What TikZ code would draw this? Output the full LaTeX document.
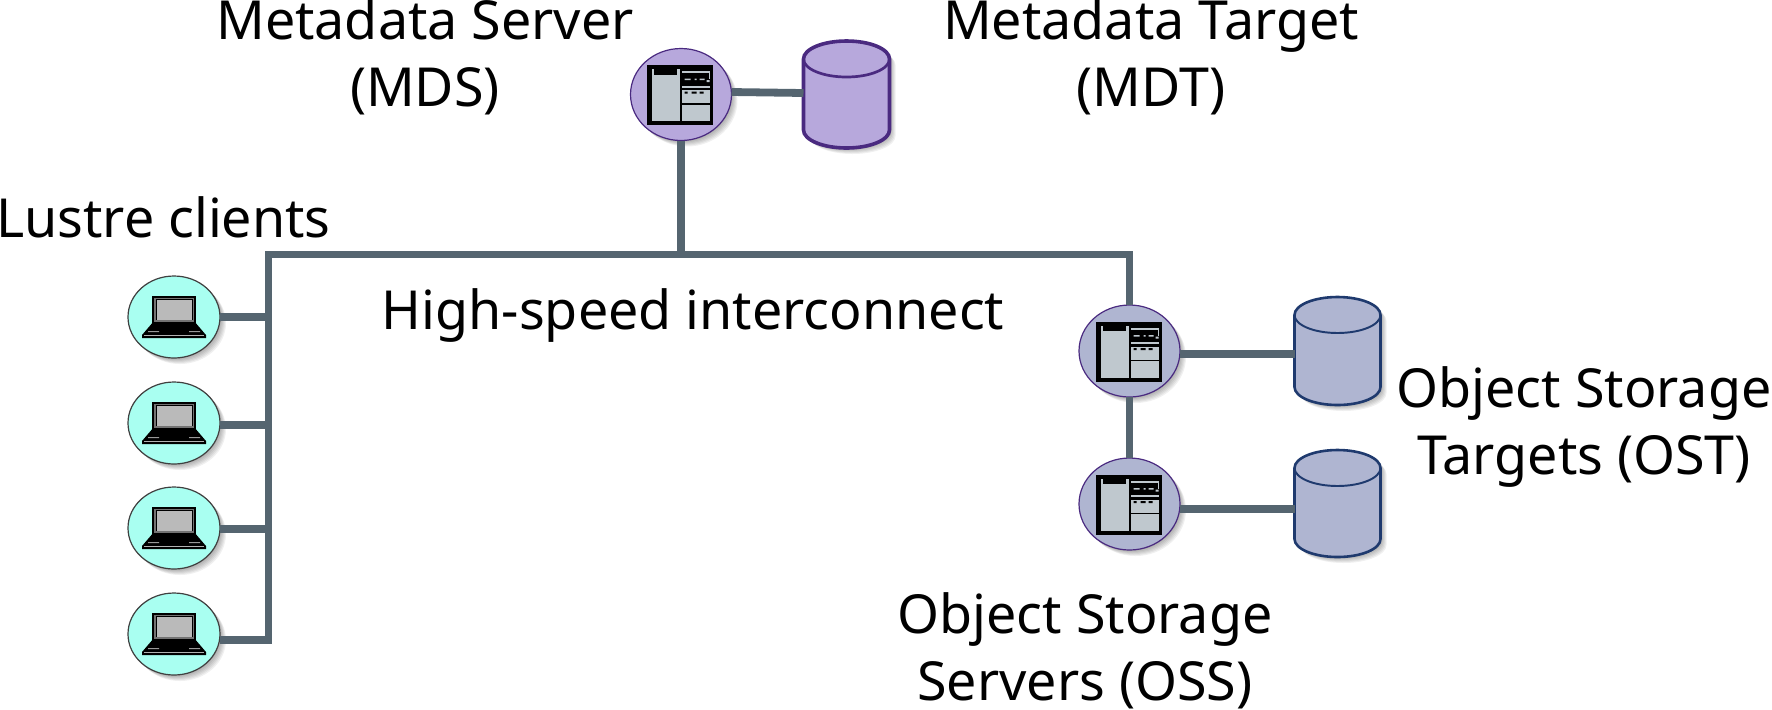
\documentclass[tikz,border=0pt]{standalone}
\usepackage{fontspec}
\setmainfont{Noto Sans}
\usetikzlibrary{shapes.geometric,calc}
\definecolor{wirec}{HTML}{556570}
\definecolor{mdfill}{HTML}{B7A8DC}
\definecolor{mdline}{HTML}{4A2A80}
\definecolor{osfill}{HTML}{AFB5D1}
\definecolor{osline}{HTML}{1F3A6E}
\definecolor{clfill}{HTML}{A9FFF1}
\definecolor{panec}{HTML}{BFC8CE}
\tikzset{
  wire/.style={draw=wirec,line width=3.9pt},
  lbl/.style={font=\fontsize{26.9}{33.4}\selectfont,align=center,inner sep=0pt,text=black},
  srv/.style={ellipse,draw=mdline,line width=0.6pt,inner sep=0pt,outer sep=0pt,minimum width=50.5pt,minimum height=46pt},
  cli/.style={ellipse,draw=black!75,fill=clfill,line width=0.6pt,inner sep=0pt,outer sep=0pt,minimum width=46pt,minimum height=41pt},
  cylbox/.style={rectangle,inner sep=0pt,outer sep=0pt,minimum width=43pt},
}
% soft shadow of an ellipse
\newcommand{\softell}[4]{%
  \foreach \k in {1,...,6}{\fill[black,opacity=.06] (#1+\k,#2+\k) ellipse [x radius=#3,y radius=#4];}}
% cylinder: cx, top, bottom, ry, fill, line, name, line width
\newcommand{\cyl}[8]{%
  \pgfmathsetmacro{\hh}{(#3-#2)/2}
  \foreach \k in {1,...,6}{\fill[black,opacity=.06] (#1-43+\k,#2+#4+\k) arc[start angle=180,end angle=0,x radius=43,y radius=-#4] -- (#1+43+\k,#3-#4+\k) arc[start angle=0,end angle=-180,x radius=43,y radius=-#4] -- cycle;}
  \node[cylbox,minimum height=\hh pt] (#7) at (#1,{(#2+#3)/2}) {};
  \draw[draw=#6,fill=#5,line width=#8] (#1-43,#2+#4) arc[start angle=180,end angle=0,x radius=43,y radius=-#4] -- (#1+43,#3-#4) arc[start angle=0,end angle=-180,x radius=43,y radius=-#4] -- cycle;
  \draw[draw=#6,line width=#8*0.75] (#1-43,#2+#4) arc[start angle=180,end angle=360,x radius=43,y radius=-#4];
}
% server window icon; (#1,#2) is the circle centre
\newcommand{\srvicon}[2]{%
  \begin{scope}[shift={(#1-33.3,#2-29.5)}]
    \fill[black] (0,0) rectangle (66.7,60);
    \fill[panec] (5,4) rectangle (33.5,56);
    \fill[black] (7,0) rectangle (30,9.5);
    \fill[panec] (35.5,6) rectangle (63,8);
    \fill[panec] (63,6) rectangle (62,14);
    \fill[panec] (38,13.5) rectangle (44,15) (48,13.5) rectangle (50,15) (53,13.5) rectangle (58,15) (60,15) rectangle (63,17);
    \fill[panec] (35.5,20.5) rectangle (63,22.5);
    \fill[panec] (35.5,25) rectangle (63,38);
    \fill[black] (38,26.5) rectangle (41,28.5) (45,26.5) rectangle (50,28.5) (53,26.5) rectangle (57,28.5);
    \fill[panec] (35.5,39.5) rectangle (63,56);
  \end{scope}}
% laptop icon; (#1,#2) is the circle centre
\newcommand{\lapicon}[2]{%
  \begin{scope}[shift={(#1,#2)}]
    \fill[black] (-21.7,-21) rectangle (21.7,7);
    \fill[black!55] (-20,-19.5) rectangle (20,5);
    \fill[black] (-18.5,-18) rectangle (18.5,3);
    \fill[black!27] (-17.5,-17) rectangle (18,2.5);
    \fill[black] (-21.7,6) -- (21.7,6) -- (32,18) -- (32,21 ) -- (-32,21) -- (-32,18) -- cycle;
    \fill[black!30] (-30,18.2) rectangle (30,19.2);
    \fill[black!40] (-26,14.2) rectangle (-15,15.2) (15,14.2) rectangle (26,15.2);
  \end{scope}}
\begin{document}
\begin{tikzpicture}[x=0.5pt,y=-0.5pt]
\useasboundingbox (0,0) rectangle (1772,709);
% named anchors of the network
\coordinate (busL) at (268.5,254.5);
\coordinate (busR) at (1129.5,254.5);
\coordinate (busM) at (681,254.5);
\coordinate (c1) at (174,317);
\coordinate (c2) at (174,423);
\coordinate (c3) at (174,528);
\coordinate (c4) at (174,634);
% shadows
\softell{681}{94.5}{50.5}{46}
\softell{1129.5}{351}{50.5}{46}
\softell{1129.5}{504}{50.5}{46}
\softell{174}{317}{46}{41}
\softell{174}{423}{46}{41}
\softell{174}{528}{46}{41}
\softell{174}{634}{46}{41}
% cylinders
\cyl{846.5}{41}{148}{18}{mdfill}{mdline}{mdt}{1.8pt}
\cyl{1337.5}{297}{405}{18}{osfill}{osline}{ost1}{1.3pt}
\cyl{1337.5}{450}{557}{18}{osfill}{osline}{ost2}{1.3pt}
% servers and clients
\node[srv,fill=mdfill] (mds) at (681,94.5) {};
\node[srv,fill=osfill] (oss1) at (1129.5,351) {};
\node[srv,fill=osfill] (oss2) at (1129.5,504) {};
\node[cli] (cl1) at (c1) {};
\node[cli] (cl2) at (c2) {};
\node[cli] (cl3) at (c3) {};
\node[cli] (cl4) at (c4) {};
\srvicon{680}{94.5}
\srvicon{1129}{351}
\srvicon{1129}{504}
\lapicon{174}{317}
\lapicon{174}{423}
\lapicon{174}{528}
\lapicon{174}{634}
% connectors
\draw[wire] (mds.east |- 0,92) -- (mdt.west |- 0,93);
\draw[wire] (mds.south) -- (busM);
\draw[wire] (oss1.north) -- (busR) -- (busL) -- (busL |- 0,640) -- (cl4.east |- 0,640);
\draw[wire] (cl1.east) -- (cl1 -| busL);
\draw[wire] (cl2.east |- 0,425) -- (busL |- 0,425);
\draw[wire] (cl3.east |- 0,529) -- (busL |- 0,529);
\draw[wire] (oss1.south) -- (oss2.north);
\draw[wire] (oss1.east |- 0,354) -- (ost1.west |- 0,354);
\draw[wire] (oss2.east |- 0,509) -- (ost2.west |- 0,509);
% labels
\node[lbl] (tmds) at (425,57) {Metadata Server\\(MDS)};
\node[lbl] (tmdt) at (1151,57) {Metadata Target\\(MDT)};
\node[lbl] (tcl) at (163.5,217) {Lustre clients};
\node[lbl] (thi) at (693,315) {High-speed interconnect};
\node[lbl] (tost) at (1584,427) {Object Storage\\Targets (OST)};
\node[lbl] (toss) at (1085,651) {Object Storage\\Servers (OSS)};
\end{tikzpicture}
\end{document}
